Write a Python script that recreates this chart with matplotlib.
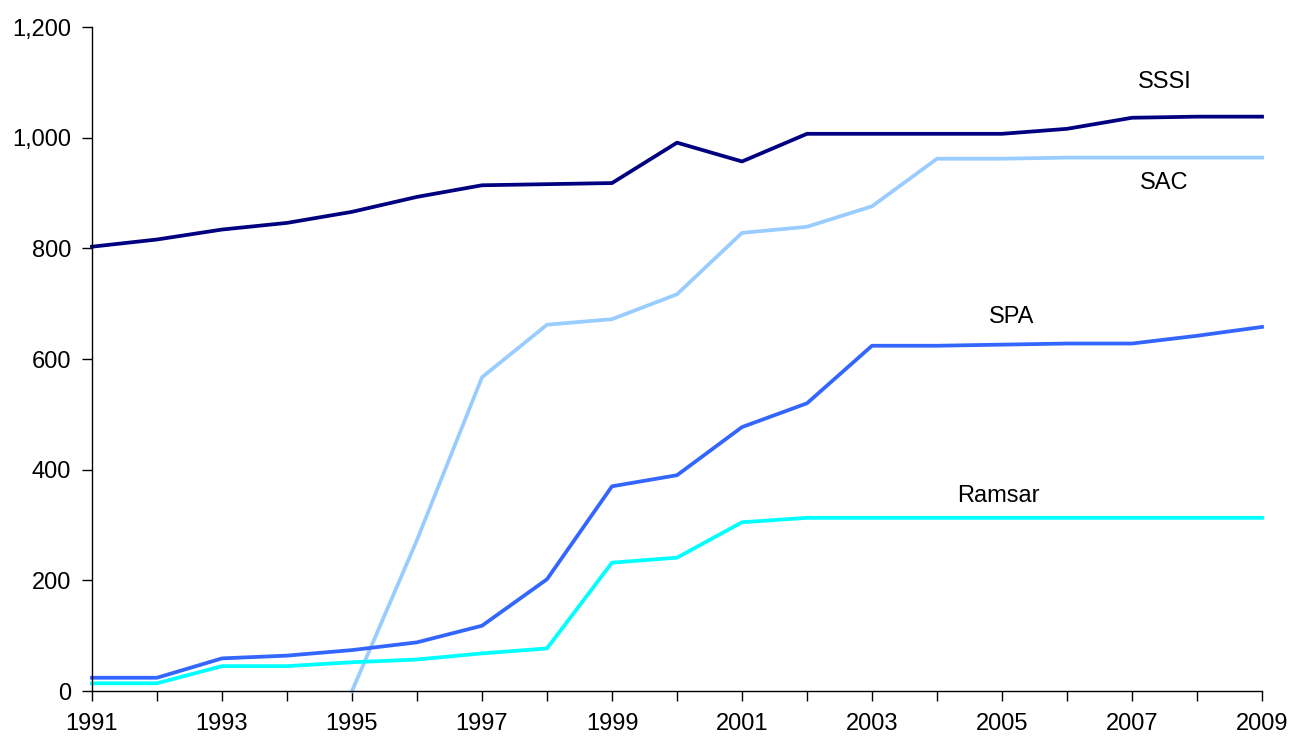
import numpy as np
import matplotlib
matplotlib.use('Agg')
import matplotlib.pyplot as plt
from matplotlib.ticker import FuncFormatter

plt.rcParams['font.family'] = ['Liberation Sans', 'DejaVu Sans']

years = list(range(1991, 2010))
sssi = [803, 816, 834, 846, 866, 893, 914, 916, 918, 991, 957, 1007, 1007, 1007, 1007, 1016, 1036, 1038, 1038]
sac_years = list(range(1995, 2010))
sac = [0, 273, 567, 662, 672, 717, 828, 839, 876, 962, 962, 964, 964, 964, 964]
spa = [24, 24, 59, 64, 74, 88, 118, 202, 370, 390, 477, 520, 624, 624, 626, 628, 628, 642, 658]
ramsar = [14, 14, 45, 45, 52, 57, 68, 77, 232, 241, 305, 313, 313, 313, 313, 313, 313, 313, 313]

fig = plt.figure(figsize=(12.92, 7.36), dpi=100)
ax = fig.add_axes([0.0712, 0.0611, 0.9056, 0.9022])

lw = 2.7
ax.plot(years, sssi, color='#000080', linewidth=lw, clip_on=False)
ax.plot(sac_years, sac, color='#99CCFF', linewidth=lw, clip_on=False)
ax.plot(years, spa, color='#3366FF', linewidth=lw, clip_on=False)
ax.plot(years, ramsar, color='#00FFFF', linewidth=lw, clip_on=False)

fs = 17
ax.text(2007.5, 1100, 'SSSI', fontsize=fs, ha='center', va='center')
ax.text(2007.5, 918, 'SAC', fontsize=fs, ha='center', va='center')
ax.text(2005.15, 676, 'SPA', fontsize=fs, ha='center', va='center')
ax.text(2004.95, 352, 'Ramsar', fontsize=fs, ha='center', va='center')

ax.set_xlim(1991, 2009)
ax.set_ylim(0, 1200)
ax.set_xticks(years)
ax.set_xticklabels([str(y) if y % 2 == 1 else '' for y in years], fontsize=fs)
ax.set_yticks(range(0, 1201, 200))
ax.yaxis.set_major_formatter(FuncFormatter(lambda v, p: f'{int(v):,}'))
ax.tick_params(axis='y', labelsize=fs, direction='out', length=7, width=1, pad=8)
ax.tick_params(axis='x', direction='out', length=7, width=1, pad=9)

for s in ['top', 'right']:
    ax.spines[s].set_visible(False)
for s in ['left', 'bottom']:
    ax.spines[s].set_linewidth(1)

fig.savefig('out.png', dpi=100)
